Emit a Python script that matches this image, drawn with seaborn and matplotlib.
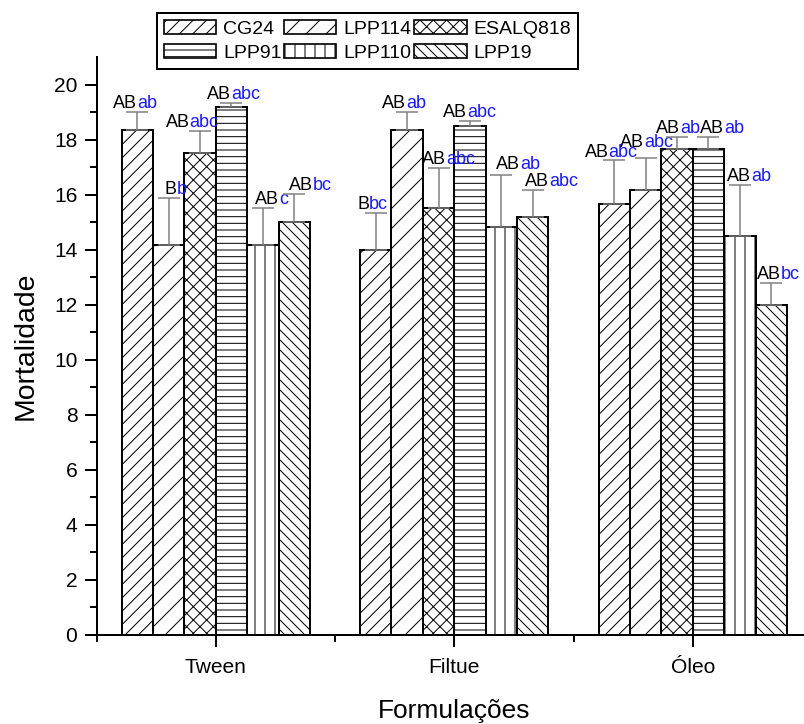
import numpy as np
import pandas as pd
import matplotlib
matplotlib.use("Agg")
import matplotlib.pyplot as plt
import seaborn as sns
from matplotlib.patches import Patch
from matplotlib.ticker import FixedLocator

# ---------------- data ----------------
formulations = ["Tween", "Filtue", "Óleo"]
strains = ["CG24", "LPP114", "ESALQ818", "LPP91", "LPP110", "LPP19"]

cg24 = [18.33, 14.00, 15.67]
lpp114 = [14.17, 18.33, 16.17]
esalq818 = [17.50, 15.50, 17.67]
lpp91 = [19.17, 18.50, 17.67]
lpp110 = [14.17, 14.83, 14.50]
lpp19 = [15.00, 15.17, 12.00]

cg24_err = [0.67, 1.33, 1.60]
lpp114_err = [1.70, 0.67, 1.15]
esalq818_err = [0.82, 1.45, 0.42]
lpp91_err = [0.15, 0.17, 0.42]
lpp110_err = [1.33, 1.90, 1.85]
lpp19_err = [1.03, 1.00, 0.78]

# letters: upper-case (black) and lower-case (blue)
cg24_up = ["AB", "B", "AB"];   cg24_lo = ["ab", "bc", "abc"]
lpp114_up = ["B", "AB", "AB"]; lpp114_lo = ["b", "ab", "abc"]
esalq818_up = ["AB", "AB", "AB"]; esalq818_lo = ["abc", "abc", "ab"]
lpp91_up = ["AB", "AB", "AB"]; lpp91_lo = ["abc", "abc", "ab"]
lpp110_up = ["AB", "AB", "AB"]; lpp110_lo = ["c", "ab", "ab"]
lpp19_up = ["AB", "AB", "AB"]; lpp19_lo = ["bc", "abc", "bc"]

values = [cg24, lpp114, esalq818, lpp91, lpp110, lpp19]
errors = [cg24_err, lpp114_err, esalq818_err, lpp91_err, lpp110_err, lpp19_err]
uppers = [cg24_up, lpp114_up, esalq818_up, lpp91_up, lpp110_up, lpp19_up]
lowers = [cg24_lo, lpp114_lo, esalq818_lo, lpp91_lo, lpp110_lo, lpp19_lo]

# ---------------- layout / style ----------------
hatches = ["///", "//", "xxx", "---", "||", "\\\\\\\\"]
# nudges of the letter labels (pixels), as placed in the original
label_dx = [[-2, -3, -3], [7, -3, 1], [-8, 10, 1],
            [2, 0, 14], [9, 17, 9], [16, 19, 7]]
label_dy = [[4, 4, 3], [4, 4, 11], [4, 4, 4],
            [4, 4, 4], [4, 6, 4], [4, 4, 4]]

rows = []
for s, vals in zip(strains, values):
    for f, v in zip(formulations, vals):
        rows.append({"Formulação": f, "Cepa": s, "Mortalidade": v})
df = pd.DataFrame(rows)

DPI = 120
sns.set_theme(style="ticks")
plt.rcParams["font.family"] = ["Liberation Sans", "DejaVu Sans"]
plt.rcParams["hatch.linewidth"] = 0.6
plt.rcParams["hatch.color"] = "black"
for k in ["text.color", "axes.labelcolor", "xtick.color", "ytick.color",
          "axes.edgecolor"]:
    plt.rcParams[k] = "black"

fig = plt.figure(figsize=(804 / DPI, 724 / DPI), dpi=DPI)
ax = fig.add_axes([96.5 / 804, 89 / 724, 715.5 / 804, 578 / 724])

sns.barplot(data=df, x="Formulação", y="Mortalidade", hue="Cepa",
            order=formulations, hue_order=strains,
            palette=["white"] * len(strains), saturation=1,
            edgecolor="black", linewidth=1.2, width=0.79,
            errorbar=None, legend=False, ax=ax)

for cont, h in zip(ax.containers, hatches):
    for bar in cont:
        bar.set_hatch(h)
        bar.set_edgecolor("black")

ax.set_xlim(-0.5, 2.5)
ax.set_ylim(0, 21)

renderer = fig.canvas.get_renderer()
LABEL_SIZE = 10.8


def text_width(s):
    t = fig.text(0, 0, s, fontsize=LABEL_SIZE)
    w = t.get_window_extent(renderer).width
    t.remove()
    return w


for cont, vals, errs, ups, los, dxs, dys in zip(ax.containers, values, errors,
                                                uppers, lowers, label_dx,
                                                label_dy):
    xs = [b.get_x() + b.get_width() / 2 for b in cont]
    ax.errorbar(xs, vals, yerr=[np.zeros(len(vals)), errs], fmt="none",
                ecolor="#7f7f7f", elinewidth=0.9, capsize=6.5, capthick=0.9,
                zorder=3)
    for x, v, e, u, l, dx, dy in zip(xs, vals, errs, ups, los, dxs, dys):
        w_full = text_width(u + l)
        ax.annotate(u, xy=(x, v + e), xytext=(dx - w_full / 2, dy),
                    textcoords="offset pixels", ha="left", va="baseline",
                    color="black", fontsize=LABEL_SIZE, annotation_clip=False)
        ax.annotate(l, xy=(x, v + e), xytext=(dx + w_full / 2, dy),
                    textcoords="offset pixels", ha="right", va="baseline",
                    color="#1a1aff", fontsize=LABEL_SIZE,
                    annotation_clip=False)

# ---------------- axes ----------------
ax.yaxis.set_major_locator(FixedLocator(np.arange(0, 21, 2)))
ax.yaxis.set_minor_locator(FixedLocator(np.arange(1, 21, 2)))
ax.xaxis.set_minor_locator(FixedLocator([-0.5, 0.5, 1.5, 2.5]))
ax.tick_params(axis="both", which="major", direction="out", length=7,
               width=1.2, labelsize=12.6, colors="black")
ax.tick_params(axis="y", which="major", pad=4.5)
ax.tick_params(axis="x", which="major", pad=7)
ax.tick_params(axis="both", which="minor", direction="out", length=4.2,
               width=1.2)
for sp in ["top", "right"]:
    ax.spines[sp].set_visible(False)
for sp in ["left", "bottom"]:
    ax.spines[sp].set_linewidth(1.2)
    ax.spines[sp].set_color("black")

ax.set_xlabel("Formulações", fontsize=15.8, labelpad=13)
ax.set_ylabel("Mortalidade", fontsize=17, labelpad=9)

# ---------------- legend ----------------
handles = {s: Patch(facecolor="white", edgecolor="black", hatch=h,
                    linewidth=1.0, label=s) for s, h in zip(strains, hatches)}
order = ["CG24", "LPP91", "LPP114", "LPP110", "ESALQ818", "LPP19"]
leg = ax.legend(handles=[handles[s] for s in order], labels=order, ncol=3,
                loc="upper left", bbox_to_anchor=(157 / 804, 1 - 13 / 724),
                bbox_transform=fig.transFigure, borderaxespad=0,
                fontsize=11.7, handlelength=2.67, handleheight=0.77,
                handletextpad=0.36, columnspacing=0.15, labelspacing=0.3,
                borderpad=0.35, fancybox=False, framealpha=1)
leg.get_frame().set_edgecolor("black")
leg.get_frame().set_linewidth(1.2)
for t in leg.get_texts():
    t.set_color("black")

fig.savefig("out.png", dpi=DPI)
